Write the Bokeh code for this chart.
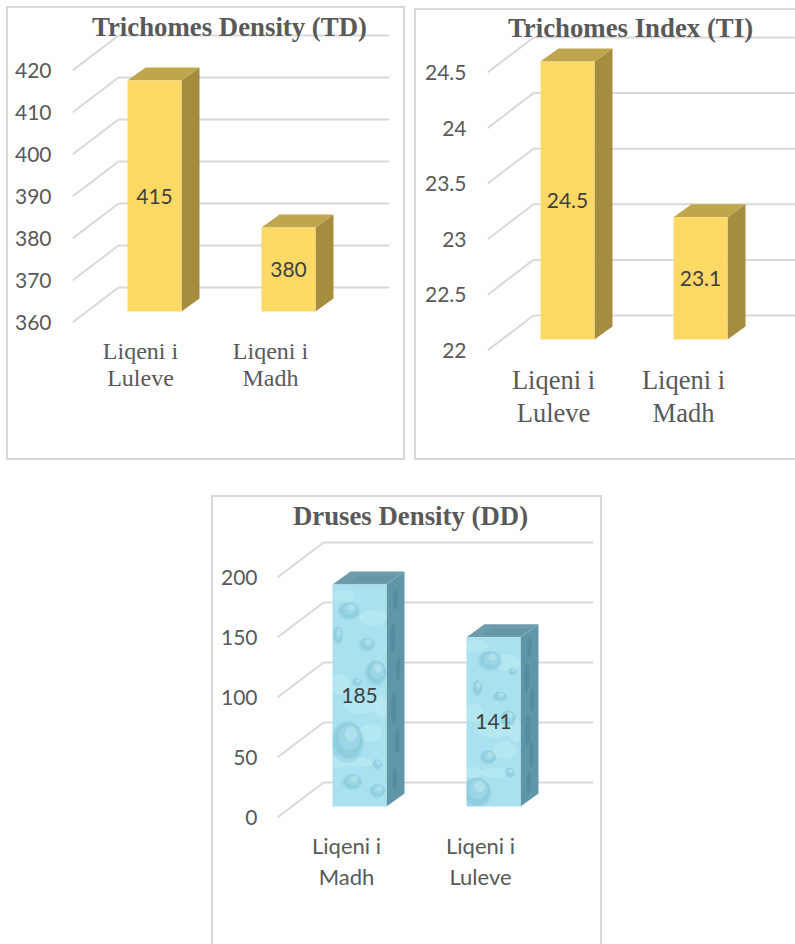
import numpy as np
from bokeh.core.properties import value
from bokeh.embed import file_html
from bokeh.layouts import column, row
from bokeh.models import ColumnDataSource, FixedTicker, LinearAxis, Range1d
from bokeh.plotting import figure
from bokeh.resources import INLINE

# Chart values
td_sites = ["Liqeni i\nLuleve", "Liqeni i\nMadh"]
td_values = [415, 380]
td_ticks = [360, 370, 380, 390, 400, 410, 420]

ti_sites = ["Liqeni i\nLuleve", "Liqeni i\nMadh"]
ti_values = [24.5, 23.1]
ti_ticks = [22, 22.5, 23, 23.5, 24, 24.5]

dd_sites = ["Liqeni i\nMadh", "Liqeni i\nLuleve"]
dd_values = [185, 141]
dd_ticks = [0, 50, 100, 150, 200]

# Water-drop texture, per bar: position on the face (0..1) and radii in pixels
drops_front = [
    [(.27, .29, 17, 21), (.80, .60, 11, 13), (.30, .88, 11, 9), (.64, .73, 8, 7),
     (.10, .77, 5, 9), (.36, .11, 10, 8), (.83, .07, 8, 7), (.83, .19, 5, 5), (.45, .56, 5, 4)],
    [(.43, .86, 12, 10), (.20, .70, 5, 8), (.62, .65, 7, 5), (.40, .29, 8, 7),
     (.18, .08, 15, 16), (.77, .52, 8, 8), (.80, .20, 5, 5), (.85, .80, 4, 4)],
]
blots_front = [(.2, .95, 12, 6), (.75, .85, 14, 8), (.55, .45, 18, 7), (.15, .55, 9, 10),
               (.7, .33, 12, 9), (.5, .2, 14, 5), (.12, .2, 8, 6), (.9, .45, 6, 12)]
drops_side = [(.5, .90, 5, 10), (.35, .74, 6, 14), (.65, .58, 5, 12), (.4, .42, 6, 16),
              (.6, .26, 5, 13), (.45, .10, 5, 11)]

YELLOW = {"front": "#ffd966", "top": "#bfa54c", "side": "#a58c3f"}
WATER = {"front": "#a9e1ee", "top": "#6d9dab", "side": "#5f97a8"}
GRID = "#d9d9d9"
GREY = "#595959"
DEPTH_X, DEPTH_Y = 18, 13
BAR_W = 54
FLOOR_DROP = 11      # the tick labels' floor edge lies this far under the bars' base
BACK_X, BACK_Y = 46, 35


def chart(title, sites, values, ticks, unit_px, base, bar_y, centers, label_centers, frame, box,
          edges, margin, label_font, label_size, label_height, standoff, tick_standoff,
          title_at, texture=False):
    left, right, top, bottom = frame
    bl, br, bt, bb = box
    spacing = centers[1] - centers[0]
    lspacing = label_centers[1] - label_centers[0]
    px = lambda n: n / spacing
    py = lambda n: n / unit_px

    # The bars' own plane sets the main scale; the tick labels sit lower, on the floor's front edge
    y0 = base - py(bottom - bar_y)
    y1 = base + py(bar_y - top)
    x0 = 1 + px(left - centers[0])
    x1 = 1 + px(right - centers[0])
    shadows = ", ".join(edges)
    p = figure(width=br - bl, height=bb - bt, output_backend="svg", toolbar_location=None,
               x_axis_location=None, y_axis_location=None, tools="",
               x_range=Range1d(x0, x1), y_range=Range1d(y0, y1),
               min_border_left=left - bl, min_border_right=br - right,
               min_border_top=top - bt, min_border_bottom=bb - bottom,
               margin=margin, styles={"box-shadow": shadows})
    p.outline_line_color = None
    p.background_fill_alpha = 0
    p.border_fill_alpha = 0
    p.grid.visible = False
    p.extra_y_ranges["ticks"] = Range1d(base - py(bottom - bar_y - FLOOR_DROP),
                                        base + py(bar_y + FLOOR_DROP - top))
    p.extra_x_ranges["sites"] = Range1d(1 + (left - label_centers[0]) / lspacing,
                                        1 + (right - label_centers[0]) / lspacing)

    yaxis = LinearAxis(y_range_name="ticks", ticker=FixedTicker(ticks=ticks))
    yaxis.major_label_overrides = {t: f"{t:g}" for t in ticks}
    yaxis.axis_line_color = None
    yaxis.major_tick_line_color = None
    yaxis.minor_tick_line_color = None
    yaxis.major_label_standoff = tick_standoff
    yaxis.major_label_text_font = "Lato"
    yaxis.major_label_text_font_size = "21px"
    yaxis.major_label_text_color = GREY
    p.add_layout(yaxis, "left")

    xs = list(range(1, len(sites) + 1))
    xaxis = LinearAxis(x_range_name="sites", ticker=FixedTicker(ticks=xs),
                       fixed_location=base - py(FLOOR_DROP))
    xaxis.major_label_overrides = dict(zip(xs, sites))
    xaxis.axis_line_color = None
    xaxis.major_tick_line_color = None
    xaxis.minor_tick_line_color = None
    xaxis.major_label_standoff = standoff
    xaxis.major_label_text_font = label_font
    xaxis.major_label_text_font_size = label_size
    xaxis.major_label_text_color = GREY
    xaxis.major_label_text_line_height = label_height
    p.add_layout(xaxis, "below")

    # Back wall and side wall of the 3-D box
    corner_x = x0 + px(BACK_X)
    rise = py(BACK_Y - FLOOR_DROP)
    drop = py(FLOOR_DROP)
    p.segment(x0=[corner_x] * len(ticks), x1=[x1] * len(ticks),
              y0=[t + rise for t in ticks], y1=[t + rise for t in ticks],
              line_color=GRID, line_width=2)
    p.segment(x0=[x0] * len(ticks), x1=[corner_x] * len(ticks),
              y0=[t - drop for t in ticks], y1=[t + rise for t in ticks],
              line_color=GRID, line_width=2)

    colours = WATER if texture else YELLOW
    half = BAR_W / spacing / 2
    dx, dy = px(DEPTH_X), py(DEPTH_Y)
    for x, v in zip(xs, values):
        p.patch([x + half, x + half + dx, x + half + dx, x + half],
                [base, base + dy, v + dy, v], fill_color=colours["side"], line_color=None)
        p.patch([x - half, x + half, x + half + dx, x - half + dx],
                [v, v, v + dy, v + dy], fill_color=colours["top"], line_color=None)
    p.vbar(x=xs, width=BAR_W / spacing, bottom=base, top=values,
           fill_color=colours["front"], line_color=None)

    if texture:
        t = np.linspace(0, 2 * np.pi, 28)
        for i, (x, v) in enumerate(zip(xs, values)):
            xl, xr = x - half, x + half
            # pale mottling under the droplets
            for u, w, rx, ry in blots_front:
                ex = np.clip(xl + u * (xr - xl) + px(rx) * np.cos(t), xl, xr)
                ey = np.clip(base + w * (v - base) + py(ry) * np.sin(t), base, v)
                p.patch(ex.tolist(), ey.tolist(), fill_color="#c9f0f6", fill_alpha=.4, line_color=None)
            # front-face droplets, each darker towards one rim
            for u, w, rx, ry in drops_front[i]:
                cx = xl + u * (xr - xl)
                cy = base + w * (v - base)
                for scale, shift, col, a in [(1.0, 0.0, "#7cc0d4", .30), (.85, .08, "#74b9cf", .30),
                                             (.62, .22, "#a4dcea", .55), (.35, .38, "#c4ecf4", .5)]:
                    ex = np.clip(cx + px(rx) * (scale * np.cos(t) + shift * .6), xl, xr)
                    ey = np.clip(cy + py(ry) * (scale * np.sin(t) + shift), base, v)
                    p.patch(ex.tolist(), ey.tolist(), fill_color=col, fill_alpha=a, line_color=None)
            # side-face droplets follow the shear of the face
            for u, w, rx, ry in drops_side:
                sx = np.clip(u + .45 * np.cos(t) * rx / DEPTH_X, 0, 1)
                sh = np.clip(w * (v - base) + py(ry) * np.sin(t), 0, v - base)
                p.patch((xr + sx * dx).tolist(), (base + sh + sx * dy).tolist(),
                        fill_color="#3f7f93", fill_alpha=.4, line_color=None)
            # streaks on the top face
            p.patch([xl + px(16), xr, xr + dx * .6, xl + px(18) + dx * .5],
                    [v + dy * .2, v + dy * .2, v + dy * .7, v + dy * .7],
                    fill_color="#558a9a", fill_alpha=.35, line_color=None)

    source = ColumnDataSource(dict(x=xs, y=[base + (v - base) / 2 for v in values],
                                   text=[f"{v:g}" for v in values]))
    p.text("x", "y", text="text", source=source, text_align="center", text_baseline="middle",
           text_font=value("Lato"), text_font_size="21px", text_color="#404040")

    # Heading placed inside the frame, across the top of the back wall
    tx, ty = title_at
    p.text(x=[1 + px(tx - centers[0])], y=[base + py(bar_y - ty)], text=[title],
           text_align="center", text_baseline="middle",
           text_font=value("Liberation Serif"), text_font_style="bold",
           text_font_size="26.8px", text_color=GREY)
    return p


L = f"inset 2px 0 0 {GRID}"
R = f"inset -2px 0 0 {GRID}"
T = f"inset 0 2px 0 {GRID}"
B = f"inset 0 -2px 0 {GRID}"

td = chart("Trichomes Density (TD)", td_sites, td_values, td_ticks, 4.2, 360, 311,
           (154, 288), (140, 270), (72, 389, 8, 458), (6, 405, 6, 460), (L, R, T, B),
           (6, 5, 5, 6), "Liberation Serif", "24px", 1.05, 9, 15, (229, 26))
ti = chart("Trichomes Index (TI)", ti_sites, ti_values, ti_ticks, 111.2, 22, 339,
           (567, 700), (553, 683), (487, 795, 10, 458), (414, 795, 8, 460), (L, T, B),
           (8, 0, 5, 4), "Liberation Serif", "26.5px", 1.1, 8, 15, (630, 27))
dd = chart("Druses Density (DD)", dd_sites, dd_values, dd_ticks, 1.2, 0, 806,
           (359, 493), (346, 480), (277, 593, 497, 944), (211, 602, 495, 944), (L, R, T),
           (30, 0, 0, 211), "Lato", "22px", 1.15, 8, 14, (410, 515), texture=True)

page = column(row(td, ti, spacing=0), dd, spacing=0)
open("out.html", "w").write(file_html(page, INLINE))
